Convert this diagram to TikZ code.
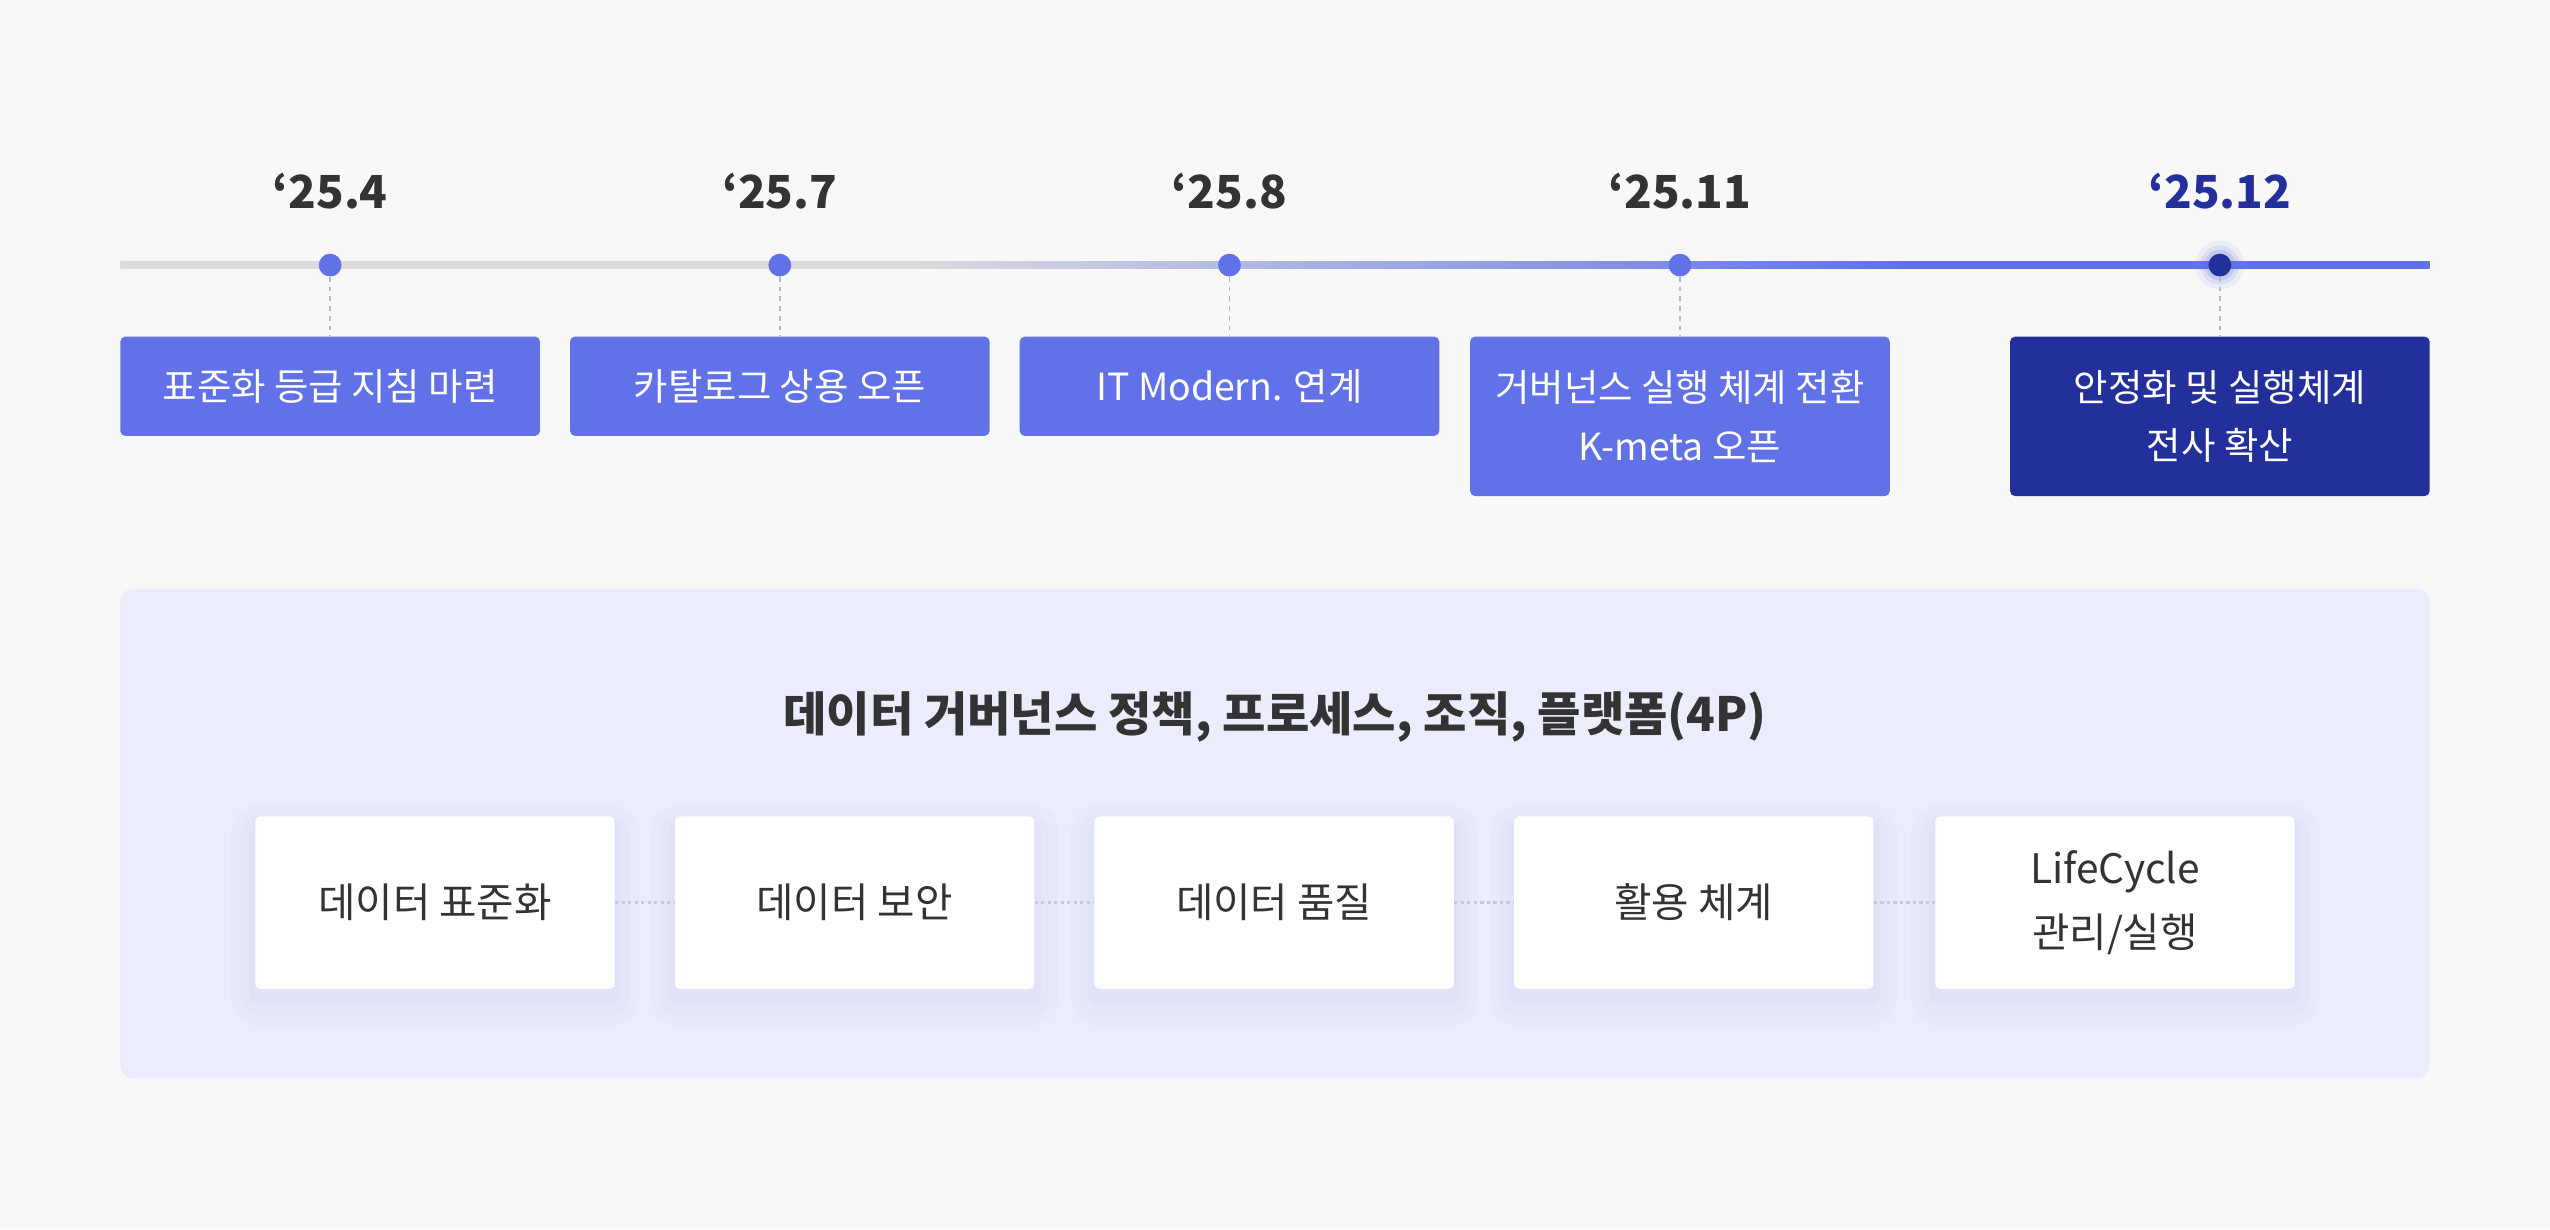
\documentclass[tikz,border=0pt]{standalone}
\usepackage{fontspec}
\setmainfont{Noto Sans CJK KR}

\definecolor{fundo}{HTML}{F8F8F8}
\definecolor{azul}{HTML}{6171E8}
\definecolor{marinho}{HTML}{232F9A}
\definecolor{cinzaescuro}{HTML}{333333}
\definecolor{linhacinza}{HTML}{DCDCDE}
\definecolor{painelfundo}{HTML}{EBEDFC}
\definecolor{tracejado}{HTML}{B4B8D2}
\definecolor{pontilhado}{HTML}{C6C8DE}
\definecolor{sombra}{HTML}{9FA6DD}

\pgfdeclarehorizontalshading{linhatempo}{100bp}{color(0bp)=(linhacinza); color(42bp)=(linhacinza); color(63.6bp)=(azul); color(100bp)=(azul)}

\tikzset{
    marco/.style={rectangle, rounded corners=3pt, fill=azul, text=white, minimum width=258pt, inner sep=0pt, align=center, font=\fontsize{23}{36}\selectfont},
    ponto/.style={circle, fill=azul, minimum size=14pt, inner sep=0pt},
    ano/.style={anchor=base, text=cinzaescuro, font=\bfseries\fontsize{28}{30}\selectfont},
    cartao/.style={rectangle, rounded corners=3pt, fill=white, minimum width=221pt, minimum height=106pt, inner sep=0pt, align=center, text=cinzaescuro, font=\fontsize{25}{39}\selectfont,
        preaction={draw=sombra, line width=30pt, draw opacity=0.03, transform canvas={yshift=-8pt}},
        preaction={draw=sombra, line width=18pt, draw opacity=0.04, transform canvas={yshift=-8pt}},
        preaction={draw=sombra, line width=8pt, draw opacity=0.06, transform canvas={yshift=-6pt}}},
    guia/.style={color=tracejado, line width=1.2pt, dash pattern=on 3pt off 3pt},
    elo/.style={color=pontilhado, line width=1.5pt, dash pattern=on 2pt off 2pt}
}

\begin{document}
\begin{tikzpicture}[x=1pt, y=-1pt]
        % Fundo
        \fill[fundo] (0,0) rectangle (1568,756);
        \useasboundingbox (0,0) rectangle (1568,756);
        
        % Linha do tempo
        \shade[shading=linhatempo] (74,161) rectangle (1494,165);
        
        \fill[azul, opacity=0.08] (1365,163) circle (15);
        \fill[azul, opacity=0.12] (1365,163) circle (12);
        \fill[azul, opacity=0.18] (1365,163) circle (9.5);
        
        \node[ponto] (ponto1) at (203,163) {};
        \node[ponto] (ponto2) at (479.5,163) {};
        \node[ponto] (ponto3) at (756,163) {};
        \node[ponto] (ponto4) at (1033,163) {};
        \node[ponto, fill=marinho] (ponto5) at (1365,163) {};
        
        \node[ano] (ano1) at (203,128) {‘25.4};
        \node[ano] (ano2) at (479.5,128) {‘25.7};
        \node[ano] (ano3) at (756,128) {‘25.8};
        \node[ano] (ano4) at (1033,128) {‘25.11};
        \node[ano, text=marinho] (ano5) at (1365,128) {‘25.12};
        
        % Marcos
        \node[marco, minimum height=61pt] (caixa1) at (203,237.5) {표준화 등급 지침 마련};
        \node[marco, minimum height=61pt] (caixa2) at (479.5,237.5) {카탈로그 상용 오픈};
        \node[marco, minimum height=61pt] (caixa3) at (756,237.5) {IT Modern. 연계};
        \node[marco, minimum height=98pt] (caixa4) at (1033,256) {거버넌스 실행 체계 전환\\K-meta 오픈};
        \node[marco, minimum height=98pt, fill=marinho] (caixa5) at (1365,256) {안정화 및 실행체계\\전사 확산};
        
        \draw[guia] (ponto1) -- (caixa1);
        \draw[guia] (ponto2) -- (caixa2);
        \draw[guia] (ponto3) -- (caixa3);
        \draw[guia] (ponto4) -- (caixa4);
        \draw[guia] (ponto5) -- (caixa5);
        
        % Painel 4P
        \node[rectangle, rounded corners=8pt, fill=painelfundo, minimum width=1420pt, minimum height=301pt] (painel) at (784,512.5) {};
        \node[text=cinzaescuro, font=\bfseries\fontsize{29}{32}\selectfont] (titulo) at (784,441) {데이터 거버넌스 정책, 프로세스, 조직, 플랫폼(4P)};
        
        \node[cartao] (cartao1) at (267.5,555) {데이터 표준화};
        \node[cartao] (cartao2) at (525.5,555) {데이터 보안};
        \node[cartao] (cartao3) at (783.5,555) {데이터 품질};
        \node[cartao] (cartao4) at (1041.5,555) {활용 체계};
        \node[cartao] (cartao5) at (1300.5,555) {LifeCycle\\관리/실행};
        
        \draw[elo] (cartao1) -- (cartao2);
        \draw[elo] (cartao2) -- (cartao3);
        \draw[elo] (cartao3) -- (cartao4);
        \draw[elo] (cartao4) -- (cartao5);
        
    \end{tikzpicture}
\end{document}
